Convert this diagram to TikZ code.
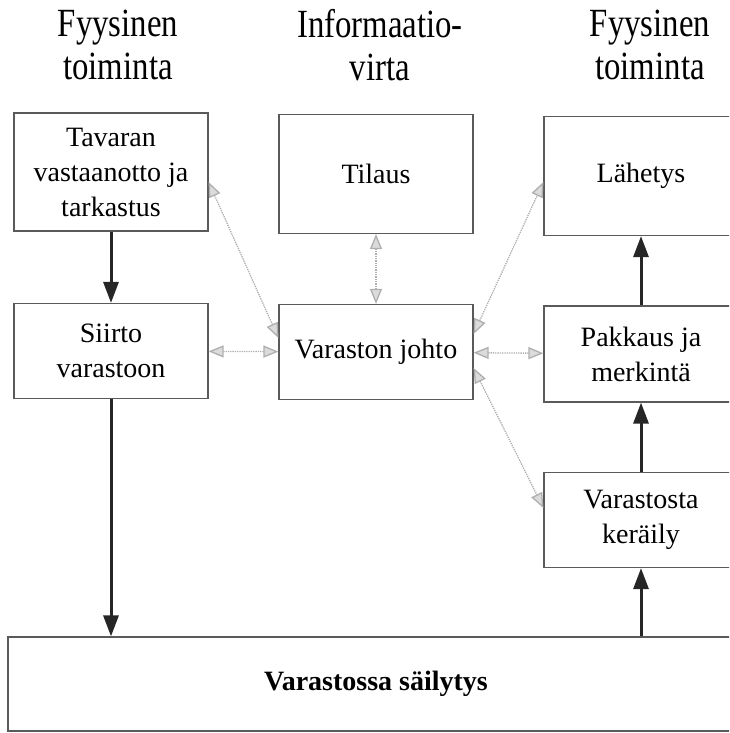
\documentclass[tikz,border=0pt]{standalone}
\usepackage{fontspec}
\setmainfont{Liberation Serif}
\newfontfamily\headfont[FakeStretch=0.82]{Liberation Serif}
\usetikzlibrary{positioning,arrows.meta}
\definecolor{boxline}{RGB}{90,90,90}
\definecolor{infocol}{RGB}{175,175,175}

\begin{document}
\begin{tikzpicture}[
  x=1pt, y=-1pt,
  every node/.style={font=\fontsize{28}{35}\selectfont},
  box/.style={draw=boxline, line width=1.2pt, align=center, inner sep=0pt, minimum width=194pt},
  head/.style={align=center, font=\headfont\fontsize{40}{43}\selectfont},
  arr/.style={-{Triangle[length=21pt, width=15pt]}, line width=3pt, black!85},
  info/.style={{Triangle[length=15pt, width=12pt, fill=infocol!45]}-{Triangle[length=15pt, width=12pt, fill=infocol!45]}, line width=1.3pt, densely dotted, infocol}
]
\clip (0,0) rectangle (729,733);

% ---------------- column headings ----------------
\node[head] (hleft)  at (118,45) {Fyysinen\\toiminta};
\node[head] (hmid)   at (380,45) {Informaatio-\\virta};
\node[head] (hright) at (650,45) {Fyysinen\\toiminta};

% ---------------- physical flow, left ----------------
\node[box, minimum height=118pt] (tavaran) at (111,172) {Tavaran\\vastaanotto ja\\tarkastus};
\node[box, minimum height=95pt]  (siirto)  at (111,351) {Siirto\\varastoon};

% ---------------- information flow ----------------
\node[box, minimum height=119pt] (tilaus) at (376,174) {Tilaus};
\node[box, minimum height=95pt]  (johto)  at (376,352) {Varaston johto};

% ---------------- physical flow, right ----------------
\node[box, minimum height=119pt] (lahetys) at (641,176) {Lähetys};
\node[box, minimum height=96pt]  (pakkaus) at (641,354) {Pakkaus ja\\merkintä};
\node[box, minimum height=95pt]  (keraily) at (641,520) {Varastosta\\keräily};

% storage
\node[box, minimum width=736pt, minimum height=94pt, font=\bfseries\fontsize{28}{34}\selectfont] (sailytys) at (376,684) {Varastossa säilytys};

% ---------------- arrows ----------------
\draw[arr] (tavaran) -- (siirto);
\draw[arr] (siirto.south) -- (siirto.south|-sailytys.north);
\draw[arr] (keraily.south|-sailytys.north) -- (keraily.south);
\draw[arr] (keraily) -- (pakkaus);
\draw[arr] (pakkaus) -- (lahetys);

\draw[info] ([yshift=-10pt]tavaran.east) -- ([yshift=14pt]johto.west);
\draw[info] (siirto) -- (johto);
\draw[info] (tilaus) -- (johto);
\draw[info] ([yshift=18pt]johto.east) -- ([yshift=-6pt]lahetys.west);
\draw[info] (johto) -- (pakkaus);
\draw[info] ([yshift=-16pt]johto.east) -- ([yshift=12pt]keraily.west);

\end{tikzpicture}
\end{document}
